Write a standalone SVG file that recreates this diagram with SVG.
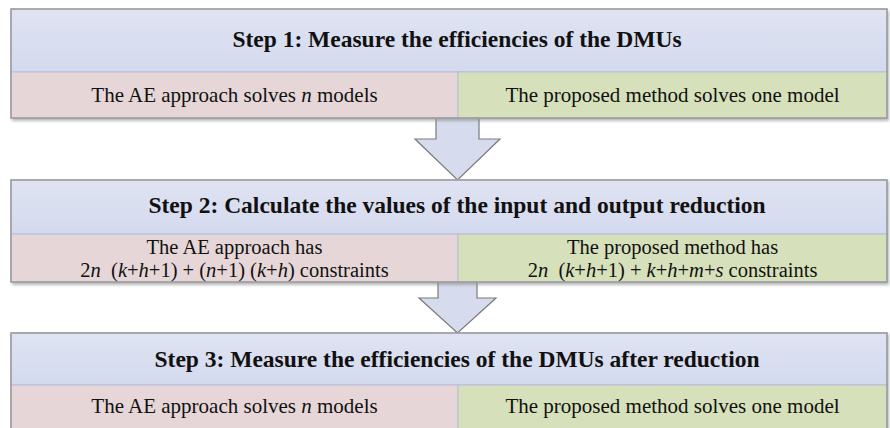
<svg xmlns="http://www.w3.org/2000/svg" width="890" height="428" viewBox="0 0 890 428">
  <defs>
    <linearGradient id="hdr" x1="0" y1="0" x2="0" y2="1">
      <stop offset="0" stop-color="#dfe3f2"/>
      <stop offset="1" stop-color="#d4daee"/>
    </linearGradient>
    <filter id="sh" x="-5%" y="-10%" width="110%" height="130%">
      <feGaussianBlur stdDeviation="1.5"/>
    </filter>
  </defs>
  <style>
    .shadow { fill: #8a8a8a; opacity: 0.6; filter: url(#sh); }
    .hdr { fill: url(#hdr); stroke: #b5bdd9; stroke-width: 1; }
    .pink { fill: #e6d6d8; stroke: #b5bdd9; stroke-width: 1; }
    .green { fill: #d6e0bb; stroke: #b5bdd9; stroke-width: 1; }
    .frame { fill: none; stroke: #9a9a9a; stroke-width: 1.5; }
    .arrow { fill: #d6dcee; stroke: #7a7a7a; stroke-width: 1.2; }
    .h { font-family: "Liberation Serif", "Times New Roman", serif; font-weight: bold; font-size: 23.5px; fill: #111; text-anchor: middle; }
    .t { font-family: "Liberation Serif", "Times New Roman", serif; font-size: 21px; fill: #111; text-anchor: middle; }
    .t2 { font-family: "Liberation Serif", "Times New Roman", serif; font-size: 20.5px; fill: #111; text-anchor: middle; }
  </style>

  <g id="connectors">
    <polygon class="arrow" points="436,116 479,116 479,139 500,139 457.5,180 415,139 436,139"/>
    <polygon class="arrow" points="438,280 477,280 477,298 496,298 457.5,333 419,298 438,298"/>
  </g>

  <g id="step1">
    <rect class="shadow" x="12" y="11" width="877" height="110"/>
    <rect class="hdr" x="11" y="9" width="876" height="63"/>
    <rect class="pink" x="11" y="72" width="447" height="46"/>
    <rect class="green" x="458" y="72" width="429" height="46"/>
    <rect class="frame" x="11" y="9" width="876" height="109"/>
    <text class="h" x="457" y="47">Step 1: Measure the efficiencies of the DMUs</text>
    <text class="t" x="234.5" y="102">The AE approach solves <tspan font-style="italic">n</tspan> models</text>
    <text class="t" x="672.5" y="102">The proposed method solves one model</text>
  </g>

  <g id="step2">
    <rect class="shadow" x="12" y="181" width="877" height="104"/>
    <rect class="hdr" x="11" y="180" width="876" height="54"/>
    <rect class="pink" x="11" y="234" width="447" height="48"/>
    <rect class="green" x="458" y="234" width="429" height="48"/>
    <rect class="frame" x="11" y="180" width="876" height="102"/>
    <text class="h" x="457" y="213">Step 2: Calculate the values of the input and output reduction</text>
    <text class="t2" x="234.5" y="254">The AE approach has</text>
    <text class="t2" x="234.5" y="277" xml:space="preserve">2<tspan font-style="italic">n</tspan>  (<tspan font-style="italic">k</tspan>+<tspan font-style="italic">h</tspan>+1) + (<tspan font-style="italic">n</tspan>+1) (<tspan font-style="italic">k</tspan>+<tspan font-style="italic">h</tspan>) constraints</text>
    <text class="t2" x="672.5" y="254">The proposed method has</text>
    <text class="t2" x="672.5" y="277" xml:space="preserve">2<tspan font-style="italic">n</tspan>  (<tspan font-style="italic">k</tspan>+<tspan font-style="italic">h</tspan>+1) + <tspan font-style="italic">k</tspan>+<tspan font-style="italic">h</tspan>+<tspan font-style="italic">m</tspan>+<tspan font-style="italic">s</tspan> constraints</text>
  </g>

  <g id="step3">
    <rect class="shadow" x="12" y="334" width="877" height="96"/>
    <rect class="hdr" x="11" y="333" width="876" height="52"/>
    <rect class="pink" x="11" y="385" width="447" height="45"/>
    <rect class="green" x="458" y="385" width="429" height="45"/>
    <rect class="frame" x="11" y="333" width="876" height="97"/>
    <text class="h" x="457" y="367">Step 3: Measure the efficiencies of the DMUs after reduction</text>
    <text class="t" x="234.5" y="413">The AE approach solves <tspan font-style="italic">n</tspan> models</text>
    <text class="t" x="672.5" y="413">The proposed method solves one model</text>
  </g>
</svg>
